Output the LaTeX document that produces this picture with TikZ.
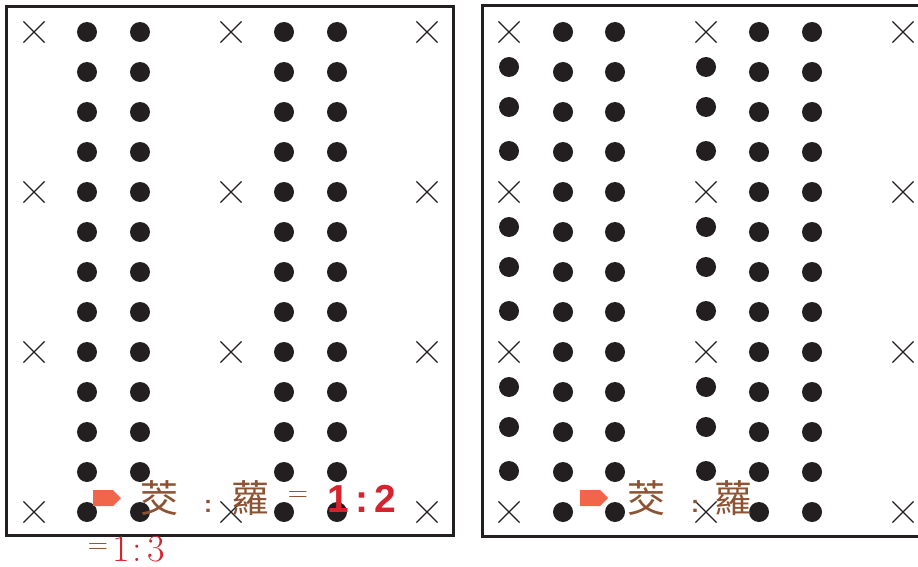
\documentclass[tikz,border=0pt]{standalone}
\usepackage{fontspec}
\usepackage{tikz}
\usetikzlibrary{positioning, shapes.misc, shapes.symbols}

\newfontfamily\cjk{Noto Sans CJK TC}
\newfontfamily\numfont{Liberation Sans}

\definecolor{inkblack}{RGB}{35,31,32}
\definecolor{tagorange}{RGB}{241,102,75}
\definecolor{textbrown}{RGB}{140,82,50}
\definecolor{numred}{RGB}{215,35,45}

\tikzset{
  cropbox/.style={draw=inkblack, line width=3pt},
  plant/.style={circle, fill=inkblack, minimum size=20pt, inner sep=0pt},
  gapmark/.style={cross out, draw=inkblack, line width=1.1pt, minimum size=20pt, inner sep=0pt},
  pointer/.style={signal, signal to=east, fill=tagorange, minimum width=28pt, minimum height=16pt, inner sep=0pt},
  hanzi/.style={text=textbrown, inner sep=0pt, font=\cjk\fontsize{38}{40}\selectfont},
  sep/.style={text=textbrown, inner sep=0pt, font=\numfont\bfseries\fontsize{24}{26}\selectfont},
  eqsign/.style={text=textbrown, inner sep=0pt, font=\fontsize{28}{30}\selectfont},
}

\begin{document}
\begin{tikzpicture}[x=1pt, y=-1pt]

    \useasboundingbox (0,0) rectangle (918,567);

    % riquadri
    \draw[cropbox] (6.5,6.5) rectangle (453.5,535.5); % sinistro
    \draw[cropbox] (930,5.5) -- (482,5.5) -- (482,536.5) -- (930,536.5); % destro

    % croci
    \foreach \k in {0,4,8,12} {
        \pgfmathsetmacro\yy{32+40*\k}
        \node[gapmark] (lx1-\k) at (34,\yy) {};
        \node[gapmark] (lx2-\k) at (231,\yy) {};
        \node[gapmark] (lx3-\k) at (427,\yy) {};
        \node[gapmark] (rx1-\k) at (509,\yy) {};
        \node[gapmark] (rx2-\k) at (706,\yy) {};
        \node[gapmark] (rx3-\k) at (903,\yy) {};
    }

    % file di punti
    \foreach \k in {0,...,12} {
        \pgfmathsetmacro\yy{32+40*\k}
        \node[plant] (la-\k) at (87,\yy) {};
        \node[plant] (lb-\k) at (140,\yy) {};
        \node[plant] (lc-\k) at (284,\yy) {};
        \node[plant] (ld-\k) at (337,\yy) {};
        \node[plant] (ra-\k) at (563,\yy) {};
        \node[plant] (rb-\k) at (615,\yy) {};
        \node[plant] (rc-\k) at (759,\yy) {};
        \node[plant] (rd-\k) at (812,\yy) {};
    }

    % punti tra le croci (destro)
    \foreach \s in {0,1,2} {
        \foreach \j/\dy in {1/-5,2/-5,3/-1} {
            \pgfmathsetmacro\yy{32+40*(4*\s+\j)+\dy}
            \node[plant] (re-\s-\j) at (509,\yy) {};
            \node[plant] (rf-\s-\j) at (706,\yy) {};
        }
    }

    % etichetta sinistra
    \node[pointer] (tagL) at (103,498) {};
    \node[hanzi] (jiaoL) at (159,498) {茭};
    \node[sep] (colL) at (208,506) {:};
    \node[hanzi] (luoL) at (250,498) {蘿};
    \node[eqsign] (eqL) at (298,497) {=};
    \node[text=numred, inner sep=0pt, font=\numfont\bfseries\fontsize{39}{41}\selectfont]
        (ratioL) at (362,499) {1\hspace{7pt}:\hspace{6pt}2};
    \node[eqsign] (eqB) at (98,549) {=};
    \node[text=numred, inner sep=0pt, font=\fontsize{38}{40}\selectfont]
        (ratioB) at (139,549) {1\hspace{2pt}:\hspace{6pt}3};

    % etichetta destra
    \node[pointer] (tagR) at (590,498) {};
    \node[hanzi] (jiaoR) at (646,498) {茭};
    \node[sep] (colR) at (695,506) {:};
    \node[hanzi] (luoR) at (733,498) {蘿};

\end{tikzpicture}
\end{document}
